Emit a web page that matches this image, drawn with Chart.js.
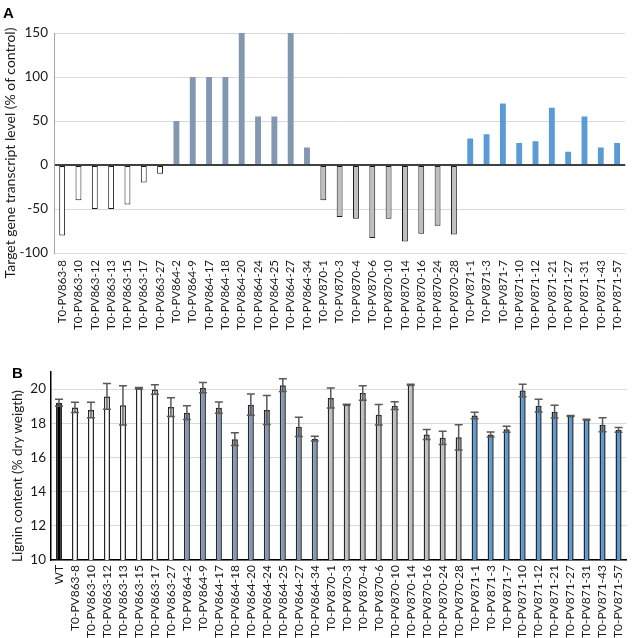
<!DOCTYPE html>
<html><head><meta charset="utf-8">
<script src="https://cdn.jsdelivr.net/npm/chart.js@4/dist/chart.umd.min.js"></script>
<style>
html,body{margin:0;padding:0;background:#fff;width:638px;height:638px;overflow:hidden}
#wa{position:absolute;left:0;top:0;width:638px;height:330px}
#wb{position:absolute;left:0;top:320px;width:638px;height:318px}
.pl{position:absolute;font:bold 15px "Liberation Sans",Arial,sans-serif;line-height:15px;color:#000}
.yt{position:absolute;white-space:nowrap;font-family:Lato,"Open Sans",sans-serif;color:#1a1a1a;
    transform:translate(-50%,-50%) rotate(-90deg);line-height:1}
</style></head><body>
<div id="wb"><canvas id="cb" width="638" height="318"></canvas></div>
<div id="wa"><canvas id="ca" width="638" height="330"></canvas></div>
<div class="pl" style="left:3px;top:5px">A</div>
<div class="pl" style="left:12px;top:365px">B</div>
<div class="yt" id="ta" style="left:10px;top:153px;font-size:14px"></div>
<div class="yt" id="tb" style="left:18px;top:476px;font-size:13.5px"></div>
<script>
// ---- data ----
const lines = [
 'T0-PV863-8','T0-PV863-10','T0-PV863-12','T0-PV863-13','T0-PV863-15','T0-PV863-17','T0-PV863-27',
 'T0-PV864-2','T0-PV864-9','T0-PV864-17','T0-PV864-18','T0-PV864-20','T0-PV864-24','T0-PV864-25','T0-PV864-27','T0-PV864-34',
 'T0-PV870-1','T0-PV870-3','T0-PV870-4','T0-PV870-6','T0-PV870-10','T0-PV870-14','T0-PV870-16','T0-PV870-24','T0-PV870-28',
 'T0-PV871-1','T0-PV871-3','T0-PV871-7','T0-PV871-10','T0-PV871-12','T0-PV871-21','T0-PV871-27','T0-PV871-31','T0-PV871-43','T0-PV871-57'
];
const transcript = [
 -80,-40,-50,-50,-45,-20,-10,
 50,100,100,100,150,55,55,150,20,
 -40,-59,-61,-83,-61,-87,-78,-69,-79,
 30,35,70,25,27,65,15,55,20,25
];
const ligninLabels = ['WT'].concat(lines);
const lignin = [
 19.2,
 18.93,18.78,19.57,19.05,20.05,19.98,18.95,
 18.62,20.08,18.91,17.07,19.09,18.78,20.23,17.79,17.1,
 19.48,19.09,19.77,18.5,19.03,20.25,17.34,17.15,17.18,
 18.45,17.34,17.65,19.92,19.03,18.68,18.43,18.21,17.92,17.61
];
const ligninErr = [
 0.2,
 0.3,0.45,0.75,1.15,0.05,0.28,0.55,
 0.4,0.3,0.33,0.37,0.62,0.85,0.37,0.56,0.14,
 0.58,0.02,0.42,0.6,0.23,0.03,0.29,0.39,0.74,
 0.19,0.15,0.17,0.37,0.37,0.37,0.03,0.02,0.41,0.14
];
const yTicksA = [-100,-50,0,50,100,150];
const yTicksB = [10,12,14,16,18,20];
const titleA = 'Target gene transcript level (% of control)';
const titleB = 'Lignin content (% dry weigth)';

document.getElementById('ta').textContent = titleA;
document.getElementById('tb').textContent = titleB;

// ---- styles ----
const FONT = 'Lato, "Open Sans", sans-serif';
const groupFill = {PV863:'#ffffff', PV864:'#8497b0', PV870:'#bfbfbf', PV871:'#5b9bd5', WT:'#000000'};
function grp(l){ const m = l.match(/PV\d+/); return m ? m[0] : 'WT'; }

const fillA = lines.map(l => groupFill[grp(l)]);
const borderA = lines.map(l => (grp(l)==='PV863'||grp(l)==='PV870') ? '#1a1a1a' : groupFill[grp(l)]);
const bwA = lines.map(l => (grp(l)==='PV863'||grp(l)==='PV870') ? 1 : 0);

const fillB = ligninLabels.map(l => groupFill[grp(l)]);

// ---- chart A ----
new Chart(document.getElementById('ca'), {
  type:'bar',
  data:{labels:lines, datasets:[{data:transcript, backgroundColor:fillA, borderColor:borderA, borderWidth:bwA,
     categoryPercentage:1, barPercentage:0.36, borderSkipped:false}]},
  options:{
    responsive:false, animation:false,
    layout:{padding:{left:0,right:5,top:33,bottom:0}},
    plugins:{legend:{display:false}, tooltip:{enabled:false}},
    scales:{
      x:{grid:{display:false, drawTicks:false}, border:{display:false},
         ticks:{minRotation:90,maxRotation:90,autoSkip:false,padding:7,color:'#1a1a1a',font:{family:FONT,size:11.5}},
         afterFit(s){s.height=77;}},
      y:{min:-100,max:150,
         afterBuildTicks(s){s.ticks=yTicksA.map(v=>({value:v}));},
         grid:{drawTicks:false, color:c=>c.tick&&c.tick.value===0?'#404040':'#d9d9d9', lineWidth:c=>c.tick&&c.tick.value===0?2:1},
         border:{display:true,color:'#a6a6a6',width:1},
         ticks:{padding:6,color:'#1a1a1a',font:{family:FONT,size:13.5}},
         afterFit(s){s.width=54;}}
    }
  }
});

// ---- chart B ----
const errPlugin = {
  id:'errbars',
  afterDatasetsDraw(chart){
    const ctx = chart.ctx, ys = chart.scales.y, meta = chart.getDatasetMeta(0);
    ctx.save();
    ctx.strokeStyle = '#595959'; ctx.lineWidth = 1.5;
    meta.data.forEach((bar,i)=>{
      const v = lignin[i], e = ligninErr[i];
      const yt = ys.getPixelForValue(v+e), yb = ys.getPixelForValue(v-e), x = bar.x;
      ctx.beginPath();
      ctx.moveTo(x,yt); ctx.lineTo(x,yb);
      ctx.moveTo(x-4,yt); ctx.lineTo(x+4,yt);
      ctx.moveTo(x-4,yb); ctx.lineTo(x+4,yb);
      ctx.stroke();
    });
    ctx.restore();
  }
};
new Chart(document.getElementById('cb'), {
  type:'bar',
  data:{labels:ligninLabels, datasets:[{data:lignin, backgroundColor:fillB, borderColor:'#262626', borderWidth:1.5,
     categoryPercentage:1, barPercentage:0.38, borderSkipped:false}]},
  options:{
    responsive:false, animation:false,
    layout:{padding:{left:0,right:4,top:52,bottom:0}},
    plugins:{legend:{display:false}, tooltip:{enabled:false}},
    scales:{
      x:{grid:{display:false, drawTicks:false}, border:{display:true,color:'#000',width:1.5},
         ticks:{minRotation:90,maxRotation:90,autoSkip:false,padding:5,color:'#1a1a1a',font:{family:FONT,size:12}},
         afterFit(s){s.height=78;}},
      y:{min:10,max:21,
         afterBuildTicks(s){s.ticks=yTicksB.map(v=>({value:v}));},
         grid:{drawTicks:false, color:'#d9d9d9'},
         border:{display:true,color:'#000',width:1.5},
         ticks:{padding:5,color:'#1a1a1a',font:{family:FONT,size:13.5}},
         afterFit(s){s.width=51;}}
    }
  },
  plugins:[errPlugin]
});
</script>
</body></html>
